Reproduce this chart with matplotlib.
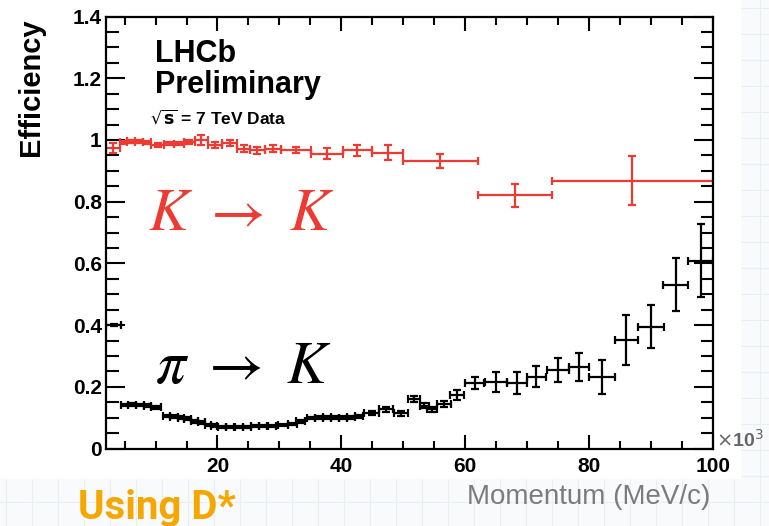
import numpy as np
import matplotlib.pyplot as plt
from matplotlib.ticker import MultipleLocator, FixedLocator
from matplotlib.patches import Rectangle

# K -> K efficiency (momentum in GeV, i.e. MeV x 10^3)
red_x = [3.1, 4.8, 6.1, 7.4, 8.6, 10.35, 12.2, 13.8, 15.45, 17.35, 19.6, 22.0,
         24.2, 26.45, 29.0, 32.7, 37.65, 42.6, 47.5, 56.0, 68.0, 87.0]
red_xerr = [1.1, 0.6, 0.65, 0.65, 0.6, 1.05, 0.8, 0.8, 0.85, 1.05, 1.2, 1.2,
            1.0, 1.25, 1.3, 2.4, 2.55, 2.4, 2.5, 6.0, 6.0, 13.0]
red_y = [0.974, 0.993, 0.995, 0.994, 0.992, 0.983, 0.988, 0.988, 0.994, 1.0, 0.983, 0.99,
         0.972, 0.966, 0.972, 0.967, 0.955, 0.967, 0.958, 0.931, 0.82, 0.868]
red_yerr = [0.017, 0.005, 0.005, 0.005, 0.005, 0.006, 0.006, 0.006, 0.006, 0.015, 0.01, 0.01,
            0.01, 0.01, 0.01, 0.01, 0.018, 0.018, 0.024, 0.023, 0.036, 0.08]

# pi -> K misidentification rate
blk_x = [3.25, 5.0, 6.2, 7.5, 8.7, 10.1, 11.8, 13.0, 14.1, 15.2, 16.3, 17.4, 18.5, 19.5,
         20.7, 22.0, 23.4, 24.7, 26.1, 27.4, 28.8, 30.6, 32.1, 33.4,
         35.1, 36.4, 37.7, 39.0, 40.3, 41.6, 42.9,
         44.9, 47.2, 49.6, 51.7, 53.4, 54.6, 56.6, 58.7, 61.5, 65.0, 68.3, 71.5,
         75.0, 78.4, 82.1, 86.0, 90.0, 94.0, 98.0]
blk_xerr = [1.25, 0.6, 0.6, 0.6, 0.6, 0.8, 0.6, 0.6, 0.55, 0.55, 0.55, 0.55, 0.5, 0.5,
            0.65, 0.65, 0.65, 0.65, 0.65, 0.65, 0.65, 0.75, 0.75, 0.65,
            0.65, 0.65, 0.65, 0.65, 0.65, 0.65, 0.65,
            1.2, 1.1, 1.1, 1.0, 0.7, 0.8, 1.1, 1.1, 1.6, 1.8, 1.6, 1.6,
            1.8, 1.6, 2.1, 1.9, 2.1, 2.0, 2.0]
blk_y = [0.40, 0.141, 0.142, 0.141, 0.139, 0.133, 0.106, 0.103, 0.100, 0.097, 0.088, 0.085,
         0.076, 0.074, 0.071, 0.070, 0.070, 0.071, 0.072, 0.072, 0.073, 0.077, 0.080, 0.088,
         0.098, 0.100, 0.101, 0.100, 0.100, 0.101, 0.105,
         0.115, 0.127, 0.114, 0.160, 0.138, 0.127, 0.144, 0.173, 0.212, 0.216, 0.213, 0.233,
         0.254, 0.265, 0.233, 0.352, 0.395, 0.530, 0.609]
blk_yerr = [0.004, 0.004, 0.004, 0.004, 0.004, 0.006, 0.004, 0.004, 0.004, 0.004, 0.004, 0.004,
            0.004, 0.004, 0.003, 0.003, 0.003, 0.003, 0.003, 0.003, 0.003, 0.004, 0.004, 0.004,
            0.004, 0.004, 0.004, 0.004, 0.004, 0.004, 0.005,
            0.007, 0.008, 0.008, 0.009, 0.008, 0.008, 0.01, 0.015, 0.02, 0.032, 0.035, 0.035,
            0.04, 0.046, 0.055, 0.081, 0.07, 0.086, 0.117]

y_ticks = [0, 0.2, 0.4, 0.6, 0.8, 1.0, 1.2, 1.4]
y_ticklabels = ['0', '0.2', '0.4', '0.6', '0.8', '1', '1.2', '1.4']
x_ticks = [20, 40, 60, 80, 100]

RED = '#ee3a32'
W, H = 769, 526

plt.rcParams['font.family'] = ['Liberation Sans', 'DejaVu Sans']

fig = plt.figure(figsize=(W / 100, H / 100), dpi=100)
fig.patch.set_facecolor('#f8fafc')

# faint squared paper behind the slide
bg = fig.add_axes([0, 0, 1, 1], zorder=-10)
bg.set_xlim(0, W)
bg.set_ylim(H, 0)
bg.axis('off')
for gx in np.arange(6, W, 26):
    bg.axvline(gx, color='#e8eef4', lw=0.8)
for gy in np.arange(8, H, 26):
    bg.axhline(gy, color='#e8eef4', lw=0.8)
bg.add_patch(Rectangle((0, 0), 740, 478, color='white', zorder=2))

ax = fig.add_axes([106 / W, 1 - 448.5 / H, 607 / W, 432 / H])
ax.errorbar(red_x, red_y, xerr=red_xerr, yerr=red_yerr, fmt='none',
            ecolor=RED, elinewidth=1.6, capsize=3, capthick=1.6)
ax.errorbar(blk_x, blk_y, xerr=blk_xerr, yerr=blk_yerr, fmt='none',
            ecolor='black', elinewidth=1.6, capsize=3, capthick=1.6)

ax.set_xlim(2, 100)
ax.set_ylim(0, 1.4)
ax.xaxis.set_major_locator(FixedLocator(x_ticks))
ax.xaxis.set_minor_locator(MultipleLocator(5))
ax.set_yticks(y_ticks)
ax.set_yticklabels(y_ticklabels)
ax.yaxis.set_minor_locator(MultipleLocator(0.05))
ax.tick_params(which='both', direction='in', top=True, right=True, width=1.5,
               labelsize=15)
ax.tick_params(axis='y', which='major', length=14, pad=3)
ax.tick_params(axis='y', which='minor', length=9)
ax.tick_params(axis='x', which='major', length=10, pad=6)
ax.tick_params(axis='x', which='minor', length=6)
for lab in ax.get_xticklabels() + ax.get_yticklabels():
    lab.set_fontweight('bold')
for sp in ax.spines.values():
    sp.set_linewidth(1.6)


def px(x, y):
    return x / W, 1 - y / H


fig.text(*px(31, 87), 'Efficiency', rotation=90, ha='center', va='center',
         fontsize=21, fontweight='bold')
fig.text(*px(155, 62), 'LHCb', fontsize=22, fontweight='bold', va='baseline')
fig.text(*px(155, 93), 'Preliminary', fontsize=22, fontweight='bold', va='baseline')
fig.text(*px(150, 124), r'$\sqrt{\mathbf{s}}$ = 7 TeV Data', fontsize=12.5,
         fontweight='bold', va='baseline')
fig.text(*px(148, 230), r'$K\ \rightarrow\ K$', fontsize=43, color=RED,
         math_fontfamily='stix', va='baseline')
fig.text(*px(155, 383), r'$\pi\ \rightarrow\ K$', fontsize=43, color='black',
         math_fontfamily='stix', va='baseline')
fig.text(*px(716, 447), r'$\times$10$^{3}$', fontsize=14, fontweight='bold',
         color='#666666', va='baseline')
fig.text(*px(710, 497), 'Momentum (MeV/c)', fontsize=20, color='#7c7c7c',
         ha='right', va='center')
fig.text(*px(78, 519), 'Using D*', fontsize=29, fontweight='bold', color='#f5a700',
         family=['Liberation Sans Narrow', 'Roboto', 'DejaVu Sans'], va='baseline')

fig.savefig('out.png', dpi=100)
